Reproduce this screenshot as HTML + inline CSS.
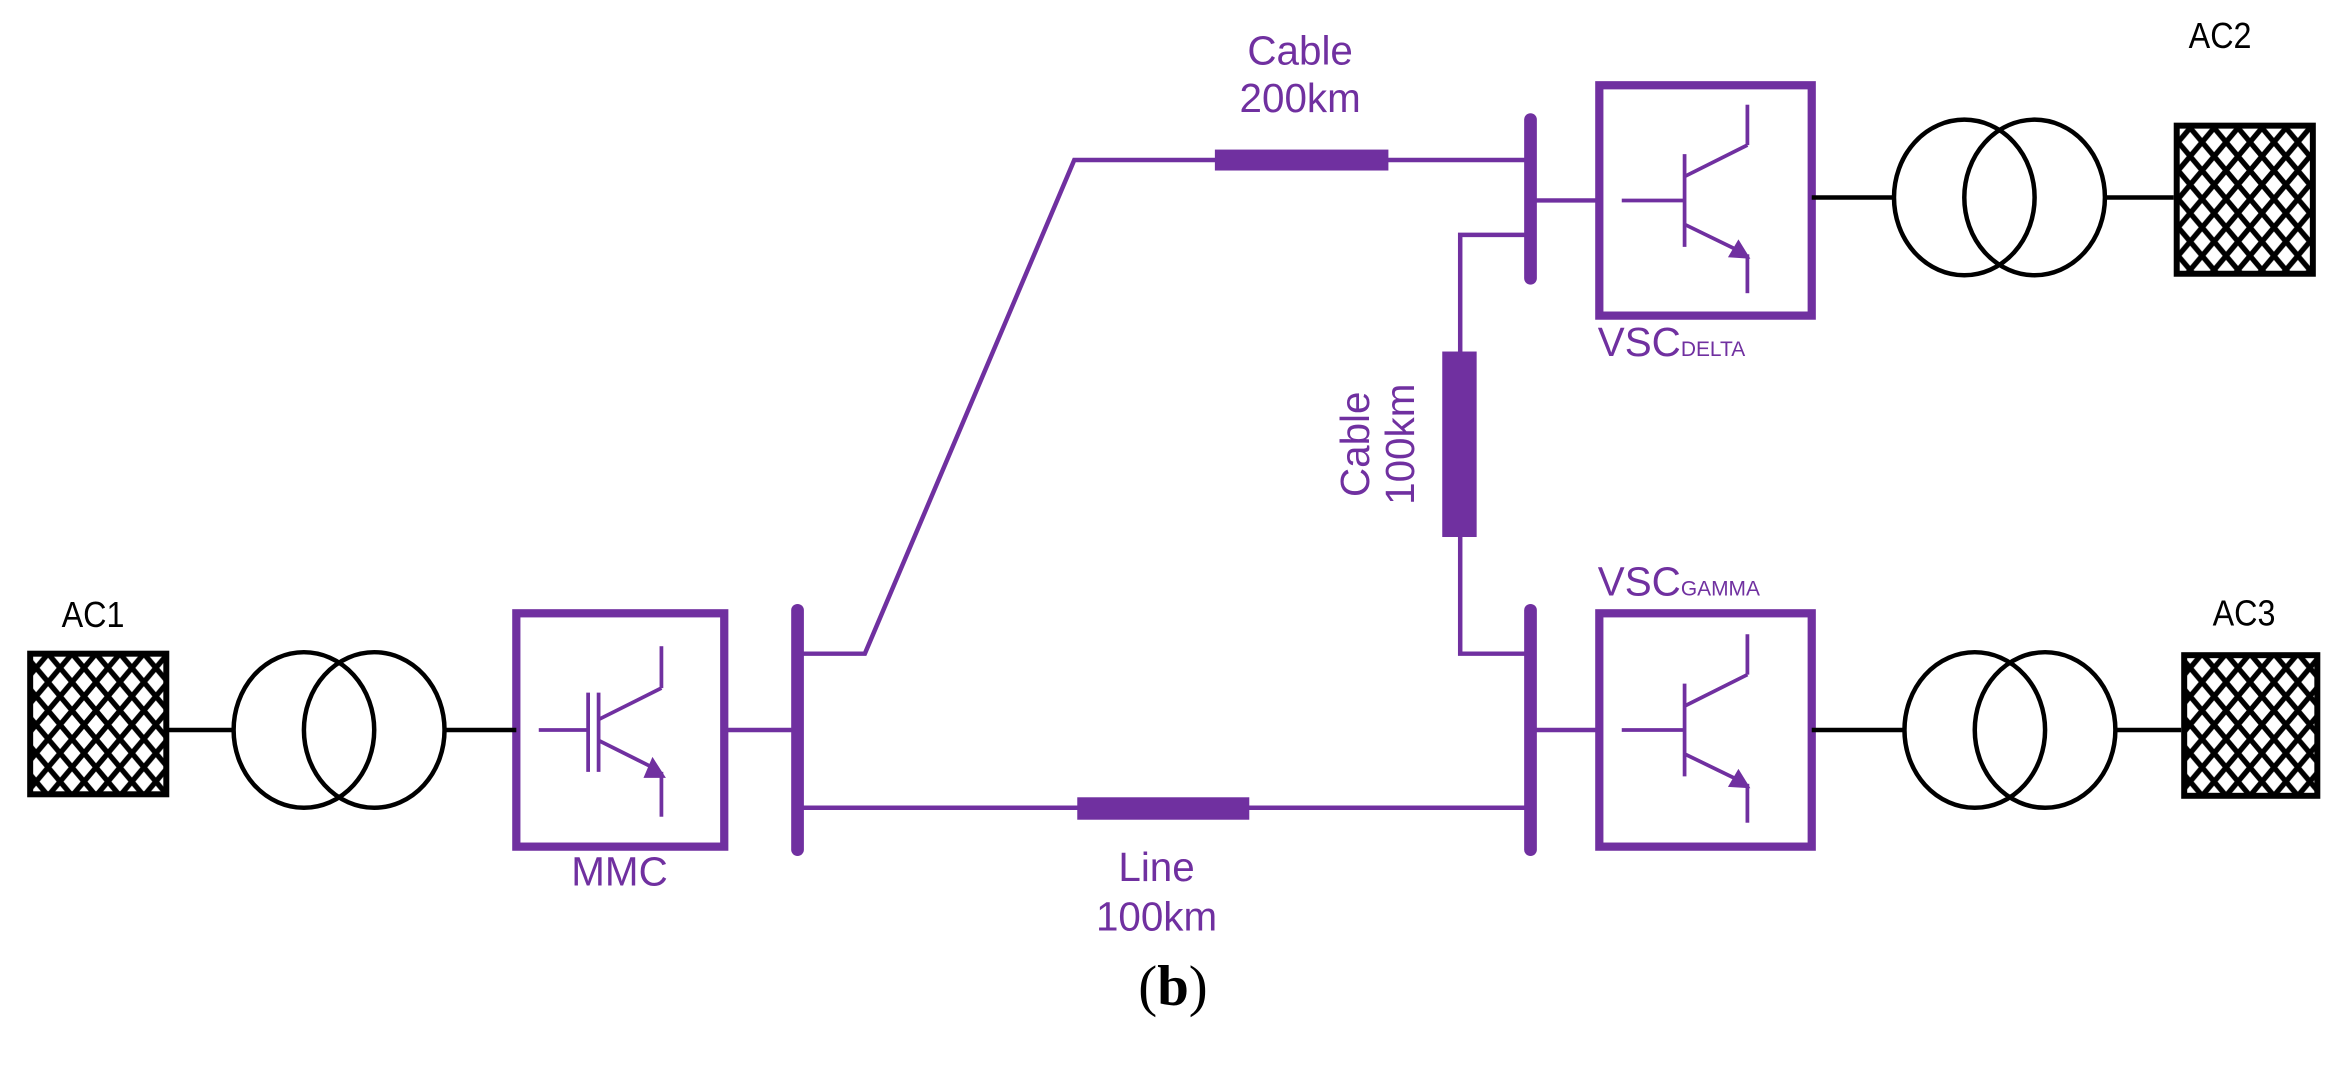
<!DOCTYPE html>
<html><head><meta charset="utf-8"><style>
html,body{margin:0;padding:0;background:#fff;}
svg{display:block;}
</style></head><body>
<svg width="2346" height="1080" viewBox="0 0 1568 722" xmlns="http://www.w3.org/2000/svg">
<defs>
<pattern id="hatch" width="16" height="19" patternUnits="userSpaceOnUse">
<rect width="16" height="19" fill="#fff"/>
<path d="M0 0L16 19M16 0L0 19" stroke="#000" stroke-width="3.5"/>
</pattern>
</defs>
<g fill="none" stroke="#7030a0" stroke-linecap="butt">
<!-- MMC -->
<rect x="345" y="410" width="139" height="156" stroke-width="5.5"/>
<line x1="360" y1="488" x2="393" y2="488" stroke-width="2.5"/>
<line x1="393" y1="463" x2="393" y2="516" stroke-width="2.5"/>
<line x1="400" y1="463" x2="400" y2="516" stroke-width="2.5"/>
<line x1="400" y1="481" x2="442" y2="460" stroke-width="2.5"/>
<line x1="442" y1="460" x2="442" y2="432" stroke-width="2.5"/>
<line x1="400" y1="495" x2="438" y2="514" stroke-width="2.5"/>
<line x1="442" y1="516" x2="442" y2="546" stroke-width="2.5"/>
<line x1="485" y1="488" x2="532" y2="488" stroke-width="3"/>
<!-- left bus -->
<line x1="533" y1="408" x2="533" y2="568" stroke-width="8.5" stroke-linecap="round"/>
<polyline points="533,437 578,437 718,107 1022,107" stroke-width="3"/>
<line x1="533" y1="540" x2="1022" y2="540" stroke-width="3"/>
<rect x="812" y="100" width="116" height="14" fill="#7030a0" stroke="none"/>
<rect x="720" y="533" width="115" height="15" fill="#7030a0" stroke="none"/>
<!-- right top bus -->
<line x1="1023" y1="80" x2="1023" y2="186" stroke-width="8.5" stroke-linecap="round"/>
<line x1="1023" y1="134" x2="1068" y2="134" stroke-width="3"/>
<polyline points="1023,157 976,157 976,437 1023,437" stroke-width="3"/>
<rect x="964" y="235" width="23" height="124" fill="#7030a0" stroke="none"/>
<!-- right bottom bus -->
<line x1="1023" y1="408" x2="1023" y2="568" stroke-width="8.5" stroke-linecap="round"/>
<line x1="1023" y1="488" x2="1068" y2="488" stroke-width="3"/>
<!-- VSC delta -->
<rect x="1069" y="57" width="142" height="154" stroke-width="5.5"/>
<line x1="1084" y1="134" x2="1126" y2="134" stroke-width="2.5"/>
<line x1="1126" y1="103" x2="1126" y2="165" stroke-width="2.5"/>
<line x1="1126" y1="118" x2="1168" y2="97" stroke-width="2.5"/>
<line x1="1168" y1="97" x2="1168" y2="70" stroke-width="2.5"/>
<line x1="1126" y1="150" x2="1163" y2="168" stroke-width="2.5"/>
<line x1="1168" y1="170" x2="1168" y2="196" stroke-width="2.5"/>
<!-- VSC gamma -->
<rect x="1069" y="410" width="142" height="156" stroke-width="5.5"/>
<line x1="1084" y1="488" x2="1126" y2="488" stroke-width="2.5"/>
<line x1="1126" y1="457" x2="1126" y2="519" stroke-width="2.5"/>
<line x1="1126" y1="472" x2="1168" y2="451" stroke-width="2.5"/>
<line x1="1168" y1="451" x2="1168" y2="424" stroke-width="2.5"/>
<line x1="1126" y1="504" x2="1163" y2="522" stroke-width="2.5"/>
<line x1="1168" y1="524" x2="1168" y2="550" stroke-width="2.5"/>
</g>
<g fill="#7030a0">
<polygon points="436,506 445,520 430,520"/>
<polygon points="1162,160 1170,173 1155,172"/>
<polygon points="1162,514 1170,527 1155,526"/>
</g>
<g fill="none" stroke="#000" stroke-width="3">
<line x1="112" y1="488" x2="156" y2="488"/>
<ellipse cx="203" cy="488" rx="47" ry="52"/>
<ellipse cx="250" cy="488" rx="47" ry="52"/>
<line x1="297" y1="488" x2="345" y2="488"/>
<line x1="1211" y1="132" x2="1265" y2="132"/>
<ellipse cx="1313" cy="132" rx="47" ry="52"/>
<ellipse cx="1360" cy="132" rx="47" ry="52"/>
<line x1="1407" y1="132" x2="1453" y2="132"/>
<line x1="1211" y1="488" x2="1272" y2="488"/>
<ellipse cx="1320" cy="488" rx="47" ry="52"/>
<ellipse cx="1367" cy="488" rx="47" ry="52"/>
<line x1="1414" y1="488" x2="1458" y2="488"/>
</g>
<g stroke="#000" stroke-width="4" fill="url(#hatch)">
<rect x="20" y="437" width="91" height="94"/>
<rect x="1455" y="84" width="91" height="99"/>
<rect x="1460" y="438" width="89" height="94"/>
</g>
<g font-family="Liberation Sans, sans-serif" font-size="24" fill="#000" text-anchor="middle">
<text x="62" y="419" textLength="42" lengthAdjust="spacingAndGlyphs">AC1</text>
<text x="1484" y="32" textLength="42" lengthAdjust="spacingAndGlyphs">AC2</text>
<text x="1500" y="418" textLength="42" lengthAdjust="spacingAndGlyphs">AC3</text>
</g>
<g font-family="Liberation Sans, sans-serif" font-size="27" fill="#7030a0" text-anchor="middle">
<text x="869" y="43">Cable</text>
<text x="869" y="75">200km</text>
<text x="414" y="592">MMC</text>
<text x="773" y="589">Line</text>
<text x="773" y="622">100km</text>
<text transform="translate(915,297) rotate(-90)">Cable</text>
<text transform="translate(945,297) rotate(-90)">100km</text>
<text x="1068" y="238" text-anchor="start">VSC<tspan font-size="14">DELTA</tspan></text>
<text x="1068" y="398" text-anchor="start">VSC<tspan font-size="14">GAMMA</tspan></text>
</g>
<text x="784" y="672" font-family="Liberation Serif, serif" font-size="38" text-anchor="middle">(<tspan font-weight="bold">b</tspan>)</text>
</svg>
</body></html>
